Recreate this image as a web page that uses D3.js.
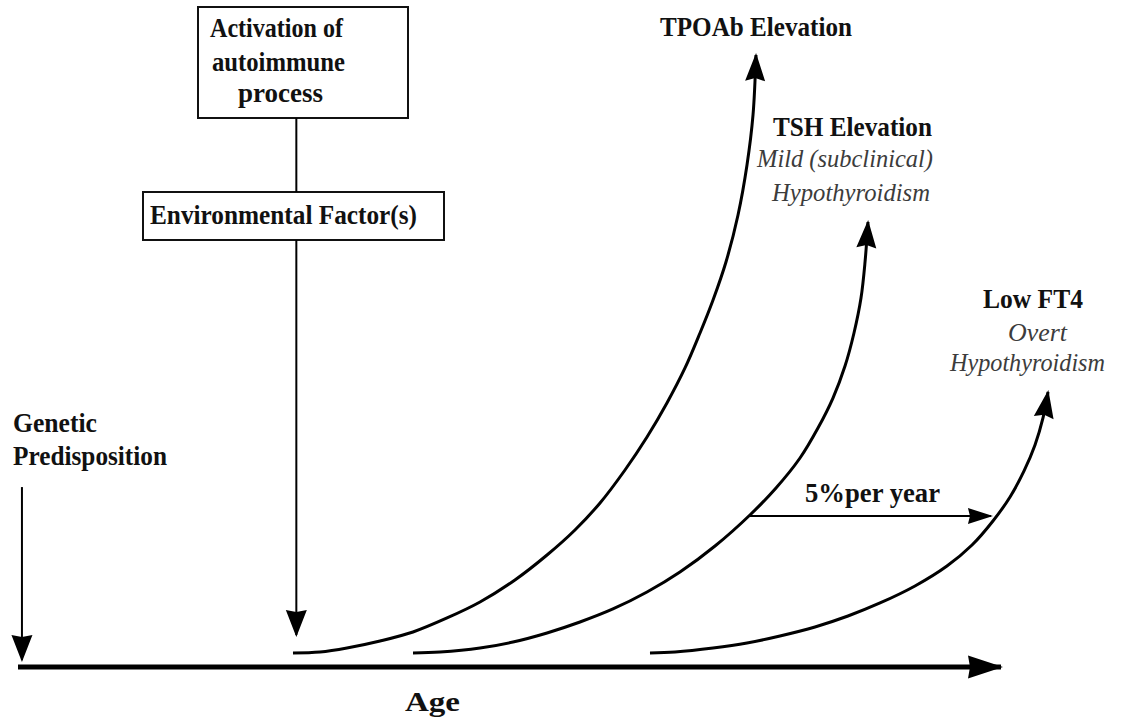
<!DOCTYPE html>
<html><head><meta charset="utf-8">
<script src="https://cdn.jsdelivr.net/npm/d3@7"></script>
<style>html,body{margin:0;padding:0;background:#fff;} svg{display:block;}</style>
</head><body>
<script>
// ---- Data (age units 0-100, level units 0-100) ----
const tpoabAge   = [27.86, 30.60, 33.33, 36.68, 40.02, 43.47, 46.81, 50.35, 53.60, 56.43, 58.97, 61.50, 63.73, 65.75, 67.58, 69.10, 70.42, 71.73, 72.95, 73.86, 74.47, 74.77];
const tpoabLevel = [2.29, 2.45, 3.10, 4.25, 5.72, 8.01, 10.62, 14.22, 18.30, 22.39, 26.80, 32.19, 37.58, 43.14, 48.86, 54.58, 59.97, 66.18, 73.86, 82.03, 90.20, 100];
const tshAge     = [40.02, 42.76, 46.81, 50.15, 53.60, 56.94, 60.28, 63.73, 67.07, 70.62, 74.16, 76.80, 79.23, 81.05, 82.57, 83.79, 84.70, 85.41, 85.82, 86.12];
const tshLevel   = [2.29, 2.45, 3.10, 4.08, 5.56, 7.35, 9.48, 12.25, 15.52, 19.77, 24.84, 29.25, 34.15, 39.05, 43.95, 49.18, 54.58, 60.29, 66.18, 72.71];
const ft4Age     = [64.03, 66.57, 70.42, 73.86, 77.20, 80.75, 84.09, 87.34, 90.88, 94.12, 96.66, 98.78, 100.51, 101.93, 103.04, 103.85, 104.36];
const ft4Level   = [2.29, 2.45, 3.10, 3.92, 5.07, 6.54, 8.33, 10.46, 13.24, 16.50, 19.93, 23.86, 27.78, 32.03, 36.27, 40.69, 44.93];
const rateAges   = [73.96, 98.78];      // "5% per year" progression
const rateLevel  = 24.67;
const geneticAge = 0.4, geneticLevels = [29.4, 0.8];
const envAge = 28.2, envTipLevel = 4.9;
const ageRange = [0, 100];

const W = 1124, H = 721;
const x = d3.scaleLinear().domain([0, 100]).range([18, 1005]);
const y = d3.scaleLinear().domain([0, 100]).range([667, 55]);

const svg = d3.select("body").append("svg").attr("width", W).attr("height", H)
  .style("font-family", "'Liberation Serif','Times New Roman',serif");
svg.append("rect").attr("width", W).attr("height", H).attr("fill", "#fff");

const defs = svg.append("defs");
function marker(id, len, half, notch) {
  defs.append("marker").attr("id", id)
    .attr("markerUnits", "userSpaceOnUse")
    .attr("viewBox", `${-len - 2} ${-half - 2} ${len + 6} ${2 * half + 4}`)
    .attr("refX", -2).attr("refY", 0)
    .attr("markerWidth", len + 6).attr("markerHeight", 2 * half + 4)
    .attr("orient", "auto")
    .append("path").attr("d", `M0,0L${-len},${-half}L${-len + notch},0L${-len},${half}Z`).attr("fill", "#000");
}
marker("arrCurve", 28, 10, 3);
marker("arrVert", 27, 10.5, 2);
marker("arrAge", 35, 11.5, 2);
marker("arrRate", 25, 8, 2);

// Age axis
svg.append("line")
  .attr("x1", x(ageRange[0])).attr("y1", y(0))
  .attr("x2", x(ageRange[1]) - 4).attr("y2", y(0))
  .attr("stroke", "#000").attr("stroke-width", 5)
  .attr("marker-end", "url(#arrAge)");

// Curves
const line = d3.line().x(d => x(d[0])).y(d => y(d[1])).curve(d3.curveCatmullRom.alpha(0.5));
[[tpoabAge, tpoabLevel], [tshAge, tshLevel], [ft4Age, ft4Level]].forEach(([a, l]) => {
  const pts = a.map((v, i) => [v, l[i]]);
  svg.append("path").attr("d", line(pts))
    .attr("fill", "none").attr("stroke", "#000").attr("stroke-width", 3)
    .attr("marker-end", "url(#arrCurve)");
});

// 5% per year arrow
svg.append("line")
  .attr("x1", x(rateAges[0])).attr("y1", y(rateLevel))
  .attr("x2", x(rateAges[1]) - 2).attr("y2", y(rateLevel))
  .attr("stroke", "#000").attr("stroke-width", 2)
  .attr("marker-end", "url(#arrRate)");

// Genetic predisposition arrow
svg.append("line")
  .attr("x1", x(geneticAge)).attr("y1", y(geneticLevels[0]))
  .attr("x2", x(geneticAge)).attr("y2", y(geneticLevels[1]) - 2)
  .attr("stroke", "#000").attr("stroke-width", 2)
  .attr("marker-end", "url(#arrVert)");

// Boxes
const box1 = {x: 198, y: 7, w: 210, h: 111};
const box2 = {x: 143, y: 192, w: 301, h: 48};
[box1, box2].forEach(b => svg.append("rect").attr("x", b.x).attr("y", b.y).attr("width", b.w).attr("height", b.h)
  .attr("fill", "#fff").attr("stroke", "#111").attr("stroke-width", 2));
svg.append("line").attr("x1", x(envAge)).attr("x2", x(envAge)).attr("y1", box1.y + box1.h).attr("y2", box2.y)
  .attr("stroke", "#000").attr("stroke-width", 2);
svg.append("line").attr("x1", x(envAge)).attr("x2", x(envAge)).attr("y1", box2.y + box2.h).attr("y2", y(envTipLevel) - 2)
  .attr("stroke", "#000").attr("stroke-width", 2)
  .attr("marker-end", "url(#arrVert)");

// Text
function txt(s, px, py, w, opt = {}) {
  return svg.append("text").attr("x", px).attr("y", py).text(s)
    .attr("font-size", opt.size || 27)
    .attr("font-weight", opt.italic ? "normal" : "bold")
    .attr("font-style", opt.italic ? "italic" : "normal")
    .attr("fill", opt.italic ? "#3c3c3c" : "#111")
    .attr("textLength", w).attr("lengthAdjust", "spacingAndGlyphs");
}
txt("Activation of", 210, 37, 133);
txt("autoimmune", 212, 71, 133);
txt("process", 238, 102, 85);
txt("Environmental Factor(s)", 150, 224, 267);
txt("Genetic", 13, 432, 84);
txt("Predisposition", 13, 465, 154);
txt("TPOAb Elevation", 660, 36, 192);
txt("TSH Elevation", 773, 136, 159);
txt("Mild (subclinical)", 757, 167, 176, {italic: true, size: 26});
txt("Hypothyroidism", 772, 201, 158, {italic: true, size: 26});
txt("Low FT4", 983, 308, 100);
txt("Overt", 1008, 341, 59, {italic: true, size: 26});
txt("Hypothyroidism", 950, 371, 155, {italic: true, size: 26});
txt("5%per year", 805, 502, 135);
txt("Age", 405, 711, 55, {size: 27});
</script>
</body></html>
